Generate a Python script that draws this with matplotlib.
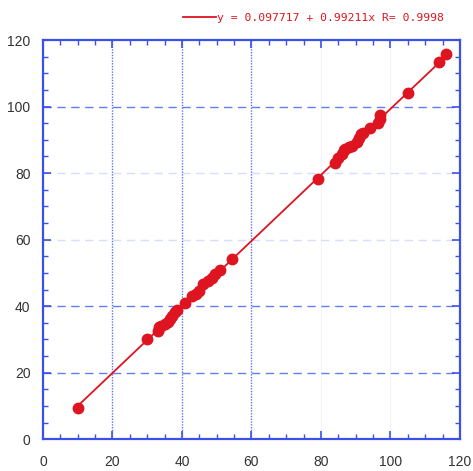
import matplotlib
matplotlib.use("Agg")
import matplotlib.pyplot as plt
import numpy as np
from matplotlib.ticker import MultipleLocator

# data
x_vals = [10, 30, 33, 33.5, 34, 35, 36, 36.5, 37, 38, 38.5, 41, 43, 44, 45, 46,
          47.5, 48.5, 49.5, 51, 54.5, 79, 84, 85, 86, 86.5, 87, 88, 89, 90.5,
          91, 91.5, 92, 94, 96.5, 97, 97, 105, 114, 116]
y_vals = [9.5, 30.1, 32.6, 33.8, 34.2, 34.6, 35.4, 36.3, 37.0, 38.2, 39.0, 41.0,
          43.1, 43.6, 44.6, 46.8, 47.6, 48.4, 49.7, 50.8, 54.3, 78.2, 83.0, 84.5,
          85.8, 86.9, 87.4, 88.0, 88.1, 89.5, 90.6, 91.7, 92.0, 93.6, 95.0, 96.3,
          97.4, 104.1, 113.3, 115.9]
intercept = 0.097717
slope = 0.99211
legend_label = "y = 0.097717 + 0.99211x R= 0.9998"
ticks = [0, 20, 40, 60, 80, 100, 120]
hgrid_strong = [20, 40, 100]
hgrid_faint = [60, 80]
vgrid_strong = [20, 40, 60]
vgrid_faint = [80, 100]

blue = "#3a50e6"
gridblue = "#4a66f0"
red = "#de1420"

fig = plt.figure(figsize=(4.73, 4.71), dpi=100)
ax = fig.add_axes([0.0909, 0.0673, 0.8816, 0.8477])

for g in hgrid_strong:
    ax.axhline(g, color=gridblue, lw=1.0, ls=(0, (6, 4)), alpha=0.85, zorder=1)
for g in hgrid_faint:
    ax.axhline(g, color=gridblue, lw=1.0, ls=(0, (6, 4)), alpha=0.22, zorder=1)
for g in vgrid_strong:
    ax.axvline(g, color=gridblue, lw=1.0, ls=(0, (1, 1)), alpha=0.9, zorder=1)
for g in vgrid_faint:
    ax.axvline(g, color=gridblue, lw=0.8, ls="-", alpha=0.07, zorder=1)

xs = np.array([min(x_vals), max(x_vals)])
ax.plot(xs, intercept + slope * xs, color=red, lw=1.3, zorder=2, label=legend_label)
ax.plot(x_vals, y_vals, "o", color=red, ms=7.5, mec=red, zorder=3)

ax.set_xlim(0, 120)
ax.set_ylim(0, 120)
ax.set_xticks(ticks)
ax.set_yticks(ticks)
ax.xaxis.set_minor_locator(MultipleLocator(5))
ax.yaxis.set_minor_locator(MultipleLocator(5))
ax.tick_params(which="both", direction="in", top=True, right=True, color=blue,
               labelcolor="#333333", labelsize=10)
for lab in ax.get_xticklabels() + ax.get_yticklabels():
    lab.set_family("Liberation Sans")
ax.tick_params(which="major", length=6, width=1.2)
ax.tick_params(which="minor", length=3.5, width=1.0)
ax.tick_params(axis="x", pad=11)
ax.tick_params(axis="y", pad=9)
for s in ax.spines.values():
    s.set_color(blue)
    s.set_linewidth(1.6)

leg = ax.legend(loc="center right", bbox_to_anchor=(0.972, 1.056), frameon=False,
                prop={"family": "DejaVu Sans Mono", "size": 8.2}, labelcolor=red,
                handlelength=2.9, handletextpad=0.1, borderaxespad=0)

fig.savefig("out.png", dpi=100)
